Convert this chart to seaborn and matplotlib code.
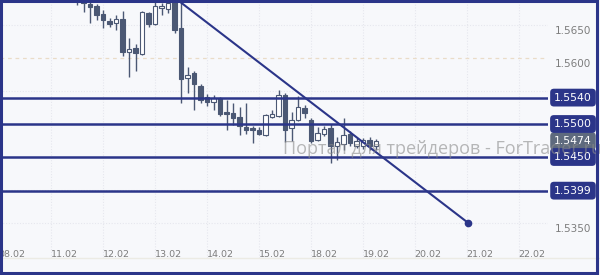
import matplotlib
matplotlib.use("Agg")
import matplotlib.pyplot as plt
import matplotlib.transforms as mtransforms
from matplotlib.patches import Rectangle
import seaborn as sns
import pandas as pd

# ---------------- data ----------------
# 3-hour candles, index 0 = first visible candle
opens = [1.5690, 1.5686, 1.5682, 1.5679, 1.5667, 1.5656, 1.5653, 1.5659, 1.5609, 1.5615,
         1.5606, 1.5668, 1.5652, 1.5676, 1.5674, 1.5690, 1.5645, 1.5570, 1.5577, 1.5558,
         1.5541, 1.5533, 1.5539, 1.5518, 1.5517, 1.5511, 1.5495, 1.5494, 1.5491, 1.5483,
         1.5511, 1.5512, 1.5544, 1.5494, 1.5506, 1.5524, 1.5506, 1.5476, 1.5485, 1.5494,
         1.5467, 1.5470, 1.5485, 1.5467, 1.5467, 1.5476, 1.5467]
highs = [1.5695, 1.5690, 1.5688, 1.5682, 1.5673, 1.5661, 1.5665, 1.5671, 1.5630, 1.5621,
         1.5671, 1.5670, 1.5688, 1.5683, 1.5690, 1.5698, 1.5690, 1.5586, 1.5580, 1.5561,
         1.5545, 1.5544, 1.5541, 1.5536, 1.5532, 1.5526, 1.5532, 1.5497, 1.5495, 1.5515,
         1.5521, 1.5552, 1.5547, 1.5518, 1.5542, 1.5529, 1.5509, 1.5495, 1.5497, 1.5500,
         1.5480, 1.5509, 1.5489, 1.5479, 1.5479, 1.5480, 1.5477]
lows = [1.5680, 1.5670, 1.5653, 1.5658, 1.5645, 1.5647, 1.5642, 1.5603, 1.5571, 1.5580,
        1.5605, 1.5647, 1.5650, 1.5665, 1.5668, 1.5638, 1.5532, 1.5547, 1.5521, 1.5532,
        1.5527, 1.5521, 1.5512, 1.5491, 1.5498, 1.5483, 1.5485, 1.5471, 1.5483, 1.5482,
        1.5509, 1.5511, 1.5473, 1.5474, 1.5505, 1.5509, 1.5471, 1.5475, 1.5482, 1.5441,
        1.5445, 1.5461, 1.5467, 1.5464, 1.5462, 1.5461, 1.5461]
closes = [1.5686, 1.5683, 1.5677, 1.5665, 1.5658, 1.5652, 1.5659, 1.5609, 1.5614, 1.5608,
          1.5670, 1.5652, 1.5679, 1.5679, 1.5683, 1.5642, 1.5568, 1.5574, 1.5561, 1.5536,
          1.5533, 1.5539, 1.5515, 1.5515, 1.5509, 1.5497, 1.5491, 1.5491, 1.5485, 1.5514,
          1.5515, 1.5544, 1.5491, 1.5506, 1.5526, 1.5517, 1.5474, 1.5486, 1.5492, 1.5467,
          1.5473, 1.5483, 1.5471, 1.5474, 1.5476, 1.5467, 1.5474]

levels = [1.5540, 1.5500, 1.5450, 1.5399]
level_labels = ["1.5540", "1.5500", "1.5450", "1.5399"]
current_price = 1.5474
current_label = "1.5474"
scale_prices = [1.5650, 1.5600, 1.5350]
scale_labels = ["1.5650", "1.5600", "1.5350"]

trend_x = [14.8, 60.2]
trend_y = [1.5693, 1.5350]

date_labels = ["08.02", "11.02", "12.02", "13.02", "14.02", "15.02",
               "18.02", "19.02", "20.02", "21.02", "22.02"]
date_pos = [-10, -2, 6, 14, 22, 30, 38, 46, 54, 62, 70]
day_grid = [-12, -4, 4, 12, 20, 28, 36, 44, 52, 60, 68]

watermark = "Портал для трейдеров - ForTrader.ru"

# ---------------- style ----------------
sns.set_theme(style="white")
plt.rcParams["font.family"] = ["DejaVu Sans"]

BG = "#f7f8fb"
NAVY = "#2b3589"
CANDLE = "#4b5874"
GRAY_TXT = "#7d7d7d"

df = pd.DataFrame({"i": range(len(opens)), "open": opens, "high": highs,
                   "low": lows, "close": closes})
df["bull"] = df["close"] >= df["open"]

fig = plt.figure(figsize=(6.0, 2.75), dpi=100)
fig.patch.set_facecolor(BG)
ax = fig.add_axes([0.0, 17 / 275, 548 / 600, 258 / 275])
ax.set_facecolor(BG)
for s in ax.spines.values():
    s.set_visible(False)

ax.set_xlim(-11.85, 72.46)
ax.set_ylim(1.529697, 1.568788)
ax.set_xticks([])
ax.set_yticks([])

# grid
for g in day_grid:
    ax.axvline(g, color="#e6e7ee", lw=0.8, ls=(0, (1, 1.5)), zorder=0)
for gy in [1.5650, 1.5550, 1.5500, 1.5450, 1.5400, 1.5350]:
    ax.axhline(gy, color="#e6e7ee", lw=0.8, ls=(0, (1, 1.5)), zorder=0)
ax.axhline(1.5600, color="#eadcc8", lw=0.9, ls=(0, (3, 3)), zorder=0)

# candles
ax.vlines(df["i"], df["low"], df["high"], color=CANDLE, lw=1.0, zorder=2)
bottoms = df[["open", "close"]].min(axis=1)
heights = (df["close"] - df["open"]).abs().clip(lower=0.00008)
face = ["white" if b else CANDLE for b in df["bull"]]
ax.bar(df["i"], heights, bottom=bottoms, width=0.74, color=face,
       edgecolor=CANDLE, linewidth=0.8, zorder=3)

# horizontal levels
for lv in levels:
    ax.axhline(lv, color=NAVY, lw=1.8, zorder=4)

# trend line
tdf = pd.DataFrame({"x": trend_x, "y": trend_y})
sns.lineplot(data=tdf, x="x", y="y", ax=ax, color=NAVY, lw=1.5, zorder=5)
ax.plot(trend_x[-1], trend_y[-1], "o", color=NAVY, ms=4.5, zorder=6)
ax.set_xlabel("")
ax.set_ylabel("")

# date labels
for p, lab in zip(date_pos, date_labels):
    ax.text(p, 1.5303, lab, fontsize=6.8, color=GRAY_TXT, ha="center",
            va="center", zorder=1)

# right scale labels
blend = mtransforms.blended_transform_factory(ax.transAxes, ax.transData)
xr = 573 / 548
for pr, lab in zip(scale_prices, scale_labels):
    ax.annotate(lab, xy=(xr, pr), xycoords=blend, xytext=(0, -4.5),
                textcoords="offset points", ha="center", va="center",
                fontsize=7.5, color=GRAY_TXT, annotation_clip=False)

ax.text(xr, current_price, current_label, transform=blend, ha="center",
        va="center", fontsize=7.8, color="white", zorder=11, clip_on=False,
        bbox=dict(boxstyle="round,pad=0.36,rounding_size=0.35",
                  fc="#5e6a7e", ec="none"))
for lv, lab in zip(levels, level_labels):
    ax.text(xr, lv, lab, transform=blend, ha="center", va="center",
            fontsize=7.8, color="white", zorder=12, clip_on=False,
            bbox=dict(boxstyle="round,pad=0.36,rounding_size=0.35",
                      fc=NAVY, ec="none"))

# watermark (semi-transparent, over everything as in the reference)
ax.text(31.7, 1.5462, watermark, fontsize=13, color="#8a8a8a", alpha=0.6,
        family="Open Sans", va="center", ha="left", zorder=15, clip_on=False)

# bottom separator and outer border
fig.add_artist(plt.Line2D([0, 1], [17 / 275, 17 / 275], color="#ecebe4",
                          lw=1, transform=fig.transFigure))
fig.add_artist(Rectangle((0.002, 0.006), 0.993, 0.99, transform=fig.transFigure,
                         fill=False, ec=NAVY, lw=2.2, zorder=20))

fig.savefig("out.png", dpi=100, facecolor=BG)
